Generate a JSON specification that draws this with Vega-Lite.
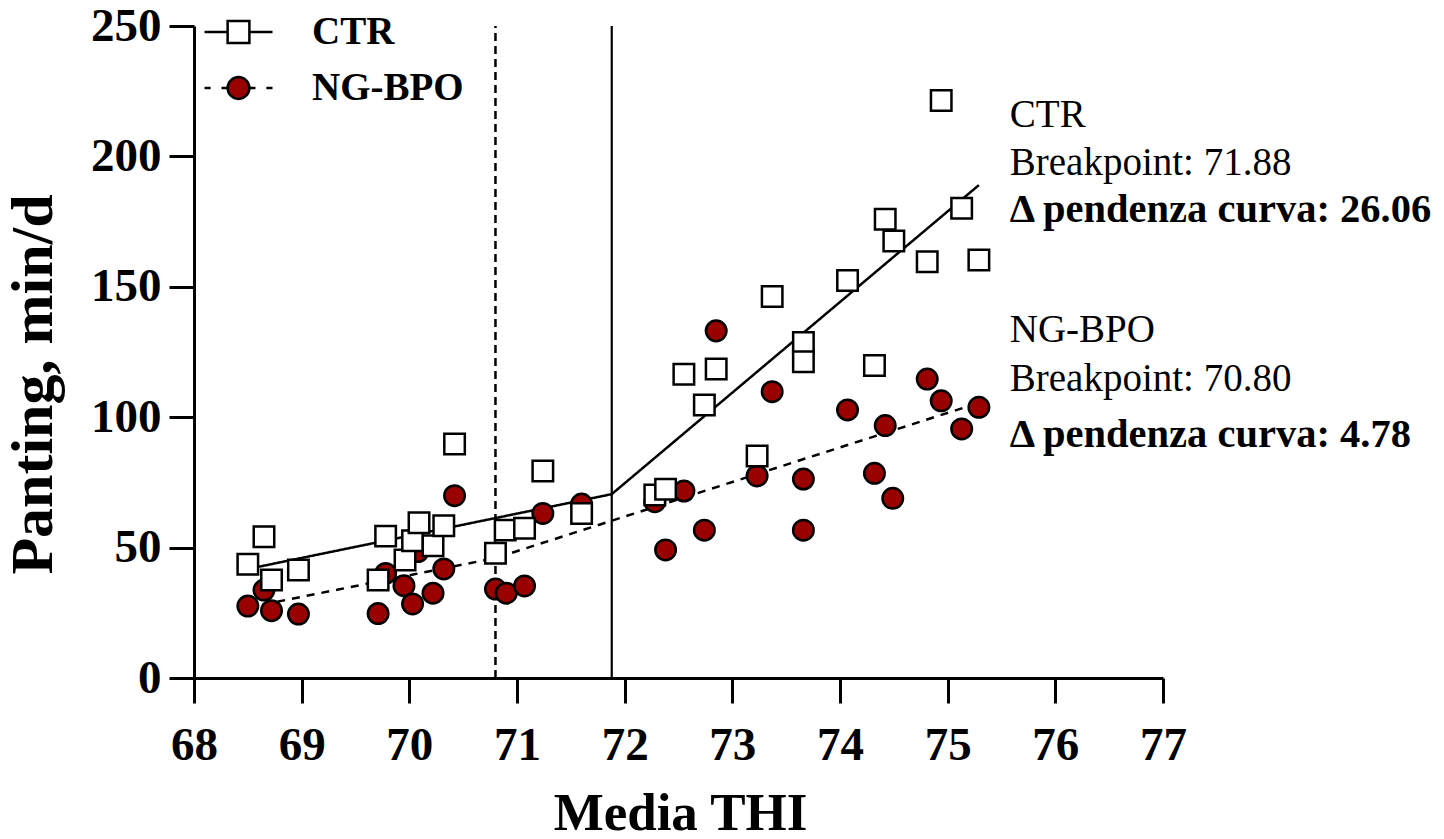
{
  "$schema": "https://vega.github.io/schema/vega-lite/v6.json",
  "width": 969,
  "height": 652,
  "autosize": {"type": "none"},
  "padding": {"left": 194, "top": 26, "right": 281, "bottom": 161},
  "background": "white",
  "datasets": {
    "points": [
      {"thi": 68.50, "panting": 27.6, "group": "NG-BPO"},
      {"thi": 68.65, "panting": 33.7, "group": "NG-BPO"},
      {"thi": 68.72, "panting": 25.8, "group": "NG-BPO"},
      {"thi": 68.97, "panting": 24.5, "group": "NG-BPO"},
      {"thi": 69.71, "panting": 24.7, "group": "NG-BPO"},
      {"thi": 69.78, "panting": 40.1, "group": "NG-BPO"},
      {"thi": 69.95, "panting": 35.4, "group": "NG-BPO"},
      {"thi": 70.03, "panting": 28.4, "group": "NG-BPO"},
      {"thi": 70.08, "panting": 48.5, "group": "NG-BPO"},
      {"thi": 70.22, "panting": 32.5, "group": "NG-BPO"},
      {"thi": 70.32, "panting": 41.8, "group": "NG-BPO"},
      {"thi": 70.42, "panting": 69.9, "group": "NG-BPO"},
      {"thi": 70.80, "panting": 34.1, "group": "NG-BPO"},
      {"thi": 70.90, "panting": 32.5, "group": "NG-BPO"},
      {"thi": 71.07, "panting": 35.3, "group": "NG-BPO"},
      {"thi": 71.24, "panting": 63.1, "group": "NG-BPO"},
      {"thi": 71.60, "panting": 66.7, "group": "NG-BPO"},
      {"thi": 72.28, "panting": 67.6, "group": "NG-BPO"},
      {"thi": 72.38, "panting": 49.1, "group": "NG-BPO"},
      {"thi": 72.55, "panting": 71.7, "group": "NG-BPO"},
      {"thi": 72.74, "panting": 56.7, "group": "NG-BPO"},
      {"thi": 72.85, "panting": 133.1, "group": "NG-BPO"},
      {"thi": 73.23, "panting": 77.5, "group": "NG-BPO"},
      {"thi": 73.37, "panting": 109.8, "group": "NG-BPO"},
      {"thi": 73.66, "panting": 76.3, "group": "NG-BPO"},
      {"thi": 73.66, "panting": 56.7, "group": "NG-BPO"},
      {"thi": 74.07, "panting": 102.8, "group": "NG-BPO"},
      {"thi": 74.32, "panting": 78.5, "group": "NG-BPO"},
      {"thi": 74.42, "panting": 96.8, "group": "NG-BPO"},
      {"thi": 74.49, "panting": 68.9, "group": "NG-BPO"},
      {"thi": 74.81, "panting": 114.6, "group": "NG-BPO"},
      {"thi": 74.94, "panting": 106.3, "group": "NG-BPO"},
      {"thi": 75.13, "panting": 95.5, "group": "NG-BPO"},
      {"thi": 75.29, "panting": 103.8, "group": "NG-BPO"},
      {"thi": 68.50, "panting": 43.6, "group": "CTR"},
      {"thi": 68.65, "panting": 54.2, "group": "CTR"},
      {"thi": 68.72, "panting": 37.6, "group": "CTR"},
      {"thi": 68.97, "panting": 41.4, "group": "CTR"},
      {"thi": 69.71, "panting": 37.6, "group": "CTR"},
      {"thi": 69.78, "panting": 54.4, "group": "CTR"},
      {"thi": 69.96, "panting": 45.2, "group": "CTR"},
      {"thi": 70.03, "panting": 52.6, "group": "CTR"},
      {"thi": 70.09, "panting": 59.5, "group": "CTR"},
      {"thi": 70.22, "panting": 50.7, "group": "CTR"},
      {"thi": 70.32, "panting": 58.4, "group": "CTR"},
      {"thi": 70.42, "panting": 89.7, "group": "CTR"},
      {"thi": 70.80, "panting": 47.8, "group": "CTR"},
      {"thi": 70.89, "panting": 56.7, "group": "CTR"},
      {"thi": 71.07, "panting": 57.4, "group": "CTR"},
      {"thi": 71.24, "panting": 79.4, "group": "CTR"},
      {"thi": 71.60, "panting": 63.1, "group": "CTR"},
      {"thi": 72.28, "panting": 70.2, "group": "CTR"},
      {"thi": 72.38, "panting": 72.4, "group": "CTR"},
      {"thi": 72.55, "panting": 116.5, "group": "CTR"},
      {"thi": 72.74, "panting": 104.7, "group": "CTR"},
      {"thi": 72.85, "panting": 118.5, "group": "CTR"},
      {"thi": 73.23, "panting": 85.1, "group": "CTR"},
      {"thi": 73.37, "panting": 146.3, "group": "CTR"},
      {"thi": 73.66, "panting": 128.6, "group": "CTR"},
      {"thi": 73.66, "panting": 121.3, "group": "CTR"},
      {"thi": 74.07, "panting": 152.4, "group": "CTR"},
      {"thi": 74.32, "panting": 119.8, "group": "CTR"},
      {"thi": 74.42, "panting": 175.9, "group": "CTR"},
      {"thi": 74.50, "panting": 167.6, "group": "CTR"},
      {"thi": 74.81, "panting": 159.6, "group": "CTR"},
      {"thi": 74.94, "panting": 221.4, "group": "CTR"},
      {"thi": 75.13, "panting": 180.1, "group": "CTR"},
      {"thi": 75.29, "panting": 160.3, "group": "CTR"}
    ],
    "fits": [
      {"thi": 68.5, "panting": 41.8, "group": "CTR"},
      {"thi": 71.88, "panting": 70.5, "group": "CTR"},
      {"thi": 75.29, "panting": 189.0, "group": "CTR"},
      {"thi": 68.5, "panting": 27.0, "group": "NG-BPO"},
      {"thi": 70.8, "panting": 46.0, "group": "NG-BPO"},
      {"thi": 75.29, "panting": 105.5, "group": "NG-BPO"}
    ]
  },
  "layer": [
    {
      "data": {"values": [{}]},
      "mark": {"type": "rule", "color": "black", "strokeWidth": 2.5, "strokeDash": [8, 5]},
      "encoding": {
        "x": {"datum": 70.8, "type": "quantitative", "title": "Media THI"},
        "y": {"datum": 0, "type": "quantitative", "title": "Panting, min/d"},
        "y2": {"datum": 250}
      }
    },
    {
      "data": {"values": [{}]},
      "mark": {"type": "rule", "color": "black", "strokeWidth": 2.2},
      "encoding": {
        "x": {"datum": 71.88, "type": "quantitative", "title": "Media THI"},
        "y": {"datum": 0, "type": "quantitative", "title": "Panting, min/d"},
        "y2": {"datum": 250}
      }
    },
    {
      "data": {"name": "fits"},
      "mark": {"type": "line", "color": "black", "strokeWidth": 2.5},
      "encoding": {
        "x": {"field": "thi", "type": "quantitative", "title": "Media THI"},
        "y": {"field": "panting", "type": "quantitative", "title": "Panting, min/d"},
        "detail": {"field": "group"},
        "strokeDash": {"field": "group", "type": "nominal", "scale": {"domain": ["CTR", "NG-BPO"], "range": [[1, 0], [8, 7]]}, "legend": null}
      }
    },
    {
      "data": {"name": "points"},
      "mark": {"type": "point", "size": 420, "stroke": "black", "strokeWidth": 2.5, "opacity": 1, "fillOpacity": 1},
      "encoding": {
        "x": {
          "field": "thi", "type": "quantitative",
          "scale": {"domain": [68, 77], "nice": false, "zero": false},
          "title": "Media THI",
          "axis": {
            "values": [68, 69, 70, 71, 72, 73, 74, 75, 76, 77], "format": "d",
            "labelPadding": 19, "titleFontSize": 53, "titleX": 486, "titleY": 151,
            "titleBaseline": "alphabetic", "titleAlign": "center", "labelFlush": false, "labelOverlap": false
          }
        },
        "y": {
          "field": "panting", "type": "quantitative",
          "scale": {"domain": [0, 250], "nice": false},
          "title": "Panting, min/d",
          "axis": {
            "values": [0, 50, 100, 150, 200, 250], "format": "d",
            "labelPadding": 8, "titleFontSize": 60, "titleX": -143, "titleY": 358,
            "titleAngle": 270, "titleBaseline": "alphabetic", "titleAlign": "center", "labelFlush": false, "labelOverlap": false
          }
        },
        "shape": {"condition": {"test": "datum.group === 'CTR'", "value": "square"}, "value": "circle"},
        "fill": {"condition": {"test": "datum.group === 'CTR'", "value": "#ffffff"}, "value": "#990000"}
      }
    },
    {
      "data": {"name": "points"},
      "mark": {"type": "point", "size": 4624, "stroke": "black", "strokeWidth": 2.5, "opacity": 0},
      "encoding": {
        "x": {"field": "thi", "type": "quantitative", "title": "Media THI"},
        "y": {"field": "panting", "type": "quantitative", "title": "Panting, min/d"},
        "shape": {
          "field": "group", "type": "nominal",
          "scale": {"range": ["M-1,0H-0.32M0.32,0H1M-0.32,-0.32H0.32V0.32H-0.32Z", "M-1,0H-0.82M-0.5,0H-0.33M0.33,0H0.5M0.82,0H1M0.32,0A0.32,0.32 0 1,1 -0.32,0A0.32,0.32 0 1,1 0.32,0Z"]},
          "legend": {
            "orient": "none", "legendX": 9, "legendY": -29.5, "title": null,
            "symbolSize": 4624, "symbolStrokeWidth": 2.5, "symbolOpacity": 1,
            "labelFont": "Liberation Serif", "labelFontWeight": "bold", "labelFontSize": 39, "labelColor": "black",
            "labelOffset": 38, "rowPadding": -12, "padding": 0,
            "encode": {"symbols": {"stroke": {"value": "black"}, "strokeWidth": {"value": 2.5}, "opacity": {"value": 1}}}
          }
        },
        "fill": {
          "field": "group", "type": "nominal",
          "scale": {"range": ["#ffffff", "#990000"]},
          "legend": {
            "orient": "none", "legendX": 9, "legendY": -29.5, "title": null,
            "symbolSize": 4624, "symbolStrokeWidth": 2.5, "symbolOpacity": 1,
            "labelFont": "Liberation Serif", "labelFontWeight": "bold", "labelFontSize": 39, "labelColor": "black",
            "labelOffset": 38, "rowPadding": -12, "padding": 0,
            "encode": {"symbols": {"stroke": {"value": "black"}, "strokeWidth": {"value": 2.5}, "opacity": {"value": 1}}}
          }
        }
      }
    },
    {
      "data": {"values": [{}]},
      "mark": {"type": "text", "text": ["CTR", "Breakpoint: 71.88"], "font": "Liberation Serif", "fontSize": 39, "lineHeight": 48, "align": "left", "baseline": "alphabetic", "color": "black"},
      "encoding": {
        "x": {"datum": 75.577, "type": "quantitative", "title": "Media THI"},
        "y": {"datum": 211.3, "type": "quantitative", "title": "Panting, min/d"}
      }
    },
    {
      "data": {"values": [{}]},
      "mark": {"type": "text", "text": "Δ pendenza curva: 26.06", "font": "Liberation Serif", "fontSize": 40.5, "fontWeight": "bold", "align": "left", "baseline": "alphabetic", "color": "black"},
      "encoding": {
        "x": {"datum": 75.577, "type": "quantitative", "title": "Media THI"},
        "y": {"datum": 174.8, "type": "quantitative", "title": "Panting, min/d"}
      }
    },
    {
      "data": {"values": [{}]},
      "mark": {"type": "text", "text": ["NG-BPO", "Breakpoint: 70.80"], "font": "Liberation Serif", "fontSize": 39, "lineHeight": 49, "align": "left", "baseline": "alphabetic", "color": "black"},
      "encoding": {
        "x": {"datum": 75.577, "type": "quantitative", "title": "Media THI"},
        "y": {"datum": 128.8, "type": "quantitative", "title": "Panting, min/d"}
      }
    },
    {
      "data": {"values": [{}]},
      "mark": {"type": "text", "text": "Δ pendenza curva: 4.78", "font": "Liberation Serif", "fontSize": 40.5, "fontWeight": "bold", "align": "left", "baseline": "alphabetic", "color": "black"},
      "encoding": {
        "x": {"datum": 75.577, "type": "quantitative", "title": "Media THI"},
        "y": {"datum": 88.6, "type": "quantitative", "title": "Panting, min/d"}
      }
    }
  ],
  "config": {
    "view": {"stroke": null},
    "axis": {
      "domainColor": "black", "domainWidth": 3, "tickColor": "black", "tickWidth": 3, "tickSize": 25,
      "grid": false, "labelFont": "Liberation Serif", "labelFontWeight": "bold", "labelFontSize": 47,
      "labelColor": "black", "titleFont": "Liberation Serif", "titleFontWeight": "bold", "titleColor": "black"
    }
  }
}
